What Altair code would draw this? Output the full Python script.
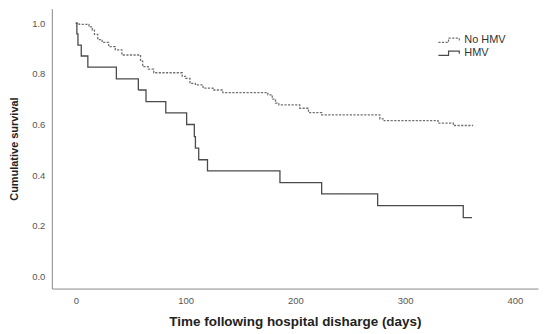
import altair as alt
import pandas as pd

# Kaplan-Meier style step curves
hmv_days = [0, 1, 2, 5, 11, 37, 57, 64, 82, 101, 108, 109, 112, 120, 186, 224, 275, 353, 361]
hmv_surv = [1.0, 0.957, 0.913, 0.870, 0.826, 0.780, 0.736, 0.690, 0.646, 0.600,
            0.552, 0.507, 0.461, 0.417, 0.371, 0.326, 0.280, 0.233, 0.233]

nohmv_days = [0, 3, 12, 15, 17, 20, 24, 30, 36, 42, 59, 61, 66, 71, 97, 100, 104, 109,
              116, 125, 134, 175, 179, 182, 185, 204, 212, 224, 277, 281, 330, 344, 362]
nohmv_surv = [1.0, 0.995, 0.985, 0.972, 0.955, 0.935, 0.924, 0.907, 0.894, 0.874, 0.850,
              0.828, 0.818, 0.804, 0.790, 0.782, 0.762, 0.756, 0.743, 0.736, 0.726, 0.717,
              0.700, 0.684, 0.677, 0.664, 0.647, 0.638, 0.622, 0.615, 0.605, 0.596, 0.596]

groups = ["No HMV", "HMV"]
x_ticks = [0, 100, 200, 300, 400]
y_ticks = [0.0, 0.2, 0.4, 0.6, 0.8, 1.0]

df = pd.concat([
    pd.DataFrame({"day": nohmv_days, "surv": nohmv_surv, "group": "No HMV", "order": range(len(nohmv_days))}),
    pd.DataFrame({"day": hmv_days, "surv": hmv_surv, "group": "HMV", "order": range(len(hmv_days))}),
])

FONT = "Liberation Sans"
step_path = "M-3.5,0.8L-0.1,0.8L-0.1,-0.6L3.5,-0.6L3.5,0.3"

legend = alt.Legend(title=None, orient="none", legendX=393, legendY=26,
                    symbolType=step_path, symbolSize=36,
                    symbolStrokeWidth=1.2, symbolFillColor="transparent",
                    labelOffset=10, labelFontSize=11, labelFont=FONT,
                    labelColor="#333", rowPadding=1, padding=0)

chart = alt.Chart(df).mark_line(interpolate="step-after", strokeWidth=1.3).encode(
    x=alt.X("day:Q",
            scale=alt.Scale(domain=[-21.8, 421.1], nice=False, zero=False),
            axis=alt.Axis(values=x_ticks, title="Time following hospital disharge (days)",
                          labelPadding=7, titlePadding=10, titleFontSize=13.5)),
    y=alt.Y("surv:Q",
            scale=alt.Scale(domain=[-0.047, 1.057], nice=False, zero=False),
            axis=alt.Axis(values=y_ticks, format=".1f", title="Cumulative survival",
                          labelPadding=7, titlePadding=12, titleFontSize=11)),
    color=alt.Color("group:N", scale=alt.Scale(domain=groups, range=["#707070", "#4a4a4a"]),
                    legend=legend),
    strokeDash=alt.StrokeDash("group:N", scale=alt.Scale(domain=groups, range=[[2.2, 1.4], [1, 0]]),
                              legend=legend),
    order="order:Q",
).properties(
    width=488, height=281,
    autosize=alt.AutoSizeParams(type="none"),
    padding={"left": 44, "top": 0, "right": 4, "bottom": 40},
).configure_view(strokeWidth=0).configure_axis(
    grid=False, ticks=False, domainColor="#8a8a8a", domainWidth=1,
    labelFont=FONT, labelFontSize=9.5, labelColor="#555",
    titleFont=FONT, titleFontWeight="bold", titleColor="#222",
)

chart.save("out.html", embed_options={"renderer": "svg", "actions": False})
